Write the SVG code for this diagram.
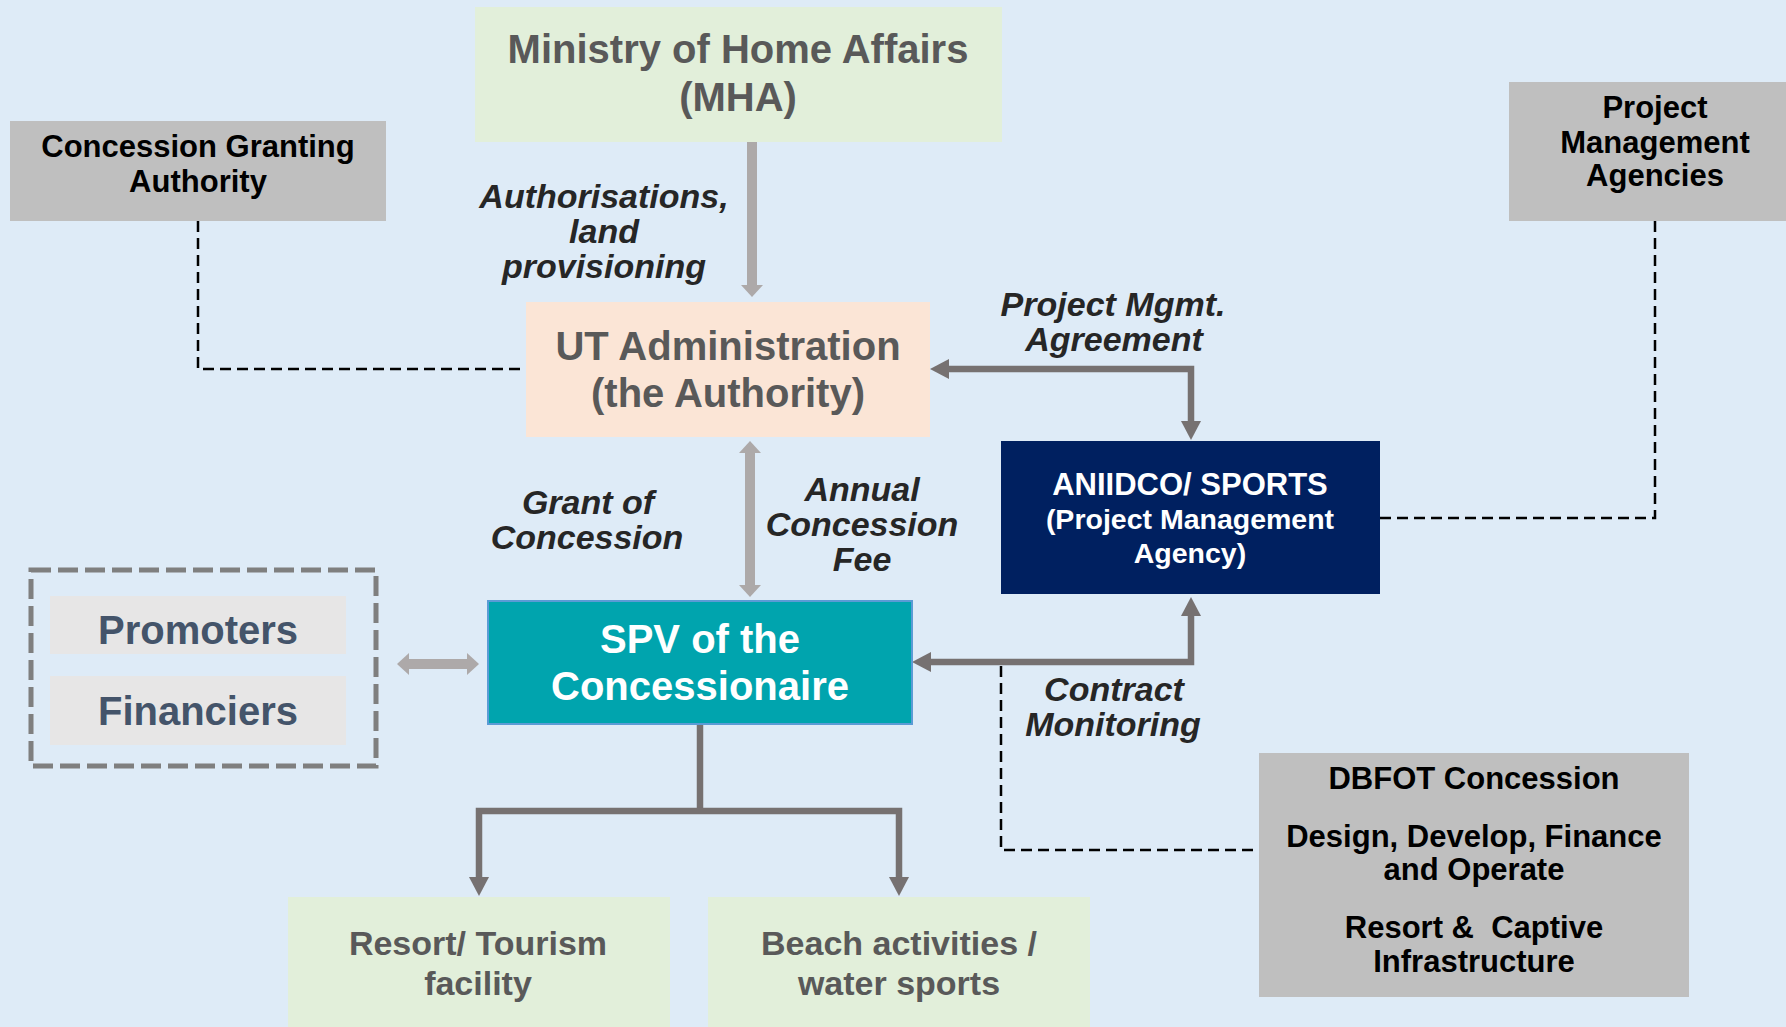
<svg xmlns="http://www.w3.org/2000/svg" width="1786" height="1027" viewBox="0 0 1786 1027">
<style>
text{font-family:"Liberation Sans",Arial,sans-serif;font-weight:bold;text-anchor:middle}
.t40{font-size:40px}
.t34{font-size:34px}
.t31{font-size:31px}
.grey{fill:#595959}
.blk{fill:#000}
.lab{font-style:italic;font-size:34px;fill:#262626}
.light{fill:none;stroke:#ADA9A9;stroke-width:10}
.dark{fill:none;stroke:#767171;stroke-width:6.5}
.dash{fill:none;stroke:#000;stroke-width:2.5;stroke-dasharray:11 6}
</style>
<defs>
<marker id="hl" markerUnits="userSpaceOnUse" markerWidth="14" markerHeight="24" refX="0" refY="11" orient="auto-start-reverse" viewBox="0 0 14 24"><path d="M0,0 L12,11 L0,22 Z" fill="#ADA9A9"/></marker>
<marker id="hd" markerUnits="userSpaceOnUse" markerWidth="20" markerHeight="22" refX="0" refY="10" orient="auto-start-reverse" viewBox="0 0 20 22"><path d="M0,0 L19,10 L0,20 Z" fill="#767171"/></marker>
</defs>
<rect x="0" y="0" width="1786" height="1027" fill="#DEEBF7"/>

<g id="connectors">
<path class="light" d="M752,142 V285" marker-end="url(#hl)"/>
<path class="light" d="M750,453 V585" marker-start="url(#hl)" marker-end="url(#hl)"/>
<path class="light" d="M409,664 H467" marker-start="url(#hl)" marker-end="url(#hl)"/>
<path class="dark" d="M949,369 H1191 V421" marker-start="url(#hd)" marker-end="url(#hd)"/>
<path class="dark" d="M1191,616 V662 H931" marker-start="url(#hd)" marker-end="url(#hd)"/>
<path class="dark" d="M700,724 V811"/>
<path class="dark" d="M700,811 H479 V877" marker-end="url(#hd)"/>
<path class="dark" d="M700,811 H899 V877" marker-end="url(#hd)"/>
<path class="dash" d="M198,221 V369 H526"/>
<path class="dash" d="M1655,221 V518 H1380"/>
<path class="dash" d="M1001,666 V850 H1259"/>
</g>

<g id="labels">
<text class="lab" x="604" y="208">Authorisations,<tspan x="604" dy="35">land</tspan><tspan x="604" dy="35">provisioning</tspan></text>
<text class="lab" x="1113" y="316">Project Mgmt.<tspan x="1114" dy="35">Agreement</tspan></text>
<text class="lab" x="588" y="514">Grant of<tspan x="587" dy="35">Concession</tspan></text>
<text class="lab" x="862" y="501">Annual<tspan x="862" dy="35">Concession</tspan><tspan x="862" dy="35">Fee</tspan></text>
<text class="lab" x="1114" y="701">Contract<tspan x="1113" dy="35">Monitoring</tspan></text>
</g>

<g id="mha">
<rect x="475" y="7" width="527" height="135" fill="#E2EFDA"/>
<text class="t40 grey" x="738" y="63">Ministry of Home Affairs<tspan x="738" dy="48">(MHA)</tspan></text>
</g>

<g id="cga">
<rect x="10" y="121" width="376" height="100" fill="#BFBFBF"/>
<text class="t31 blk" x="198" y="157">Concession Granting<tspan x="198" dy="35">Authority</tspan></text>
</g>

<g id="pma">
<rect x="1509" y="82" width="290" height="139" fill="#BFBFBF"/>
<text class="t31 blk" x="1655" y="118">Project<tspan x="1655" dy="35">Management</tspan><tspan x="1655" dy="33">Agencies</tspan></text>
</g>

<g id="ut">
<rect x="526" y="302" width="404" height="135" fill="#FBE5D6"/>
<text class="t40 grey" x="728" y="360">UT Administration<tspan x="728" dy="47">(the Authority)</tspan></text>
</g>

<g id="aniidco">
<rect x="1001" y="441" width="379" height="153" fill="#002060"/>
<text class="t31" fill="#FFFFFF" x="1190" y="495">ANIIDCO/ SPORTS</text>
<text fill="#FFFFFF" font-size="28.5" x="1190" y="529">(Project Management<tspan x="1190" dy="34">Agency)</tspan></text>
</g>

<g id="spv">
<rect x="488" y="601" width="424" height="123" fill="#00A4AE" stroke="#5B9BD5" stroke-width="2"/>
<text class="t40" fill="#FFFFFF" x="700" y="653">SPV of the<tspan x="700" dy="47">Concessionaire</tspan></text>
</g>

<g id="sponsors">
<rect x="31" y="570" width="345" height="196" fill="none" stroke="#7F7F7F" stroke-width="5" stroke-dasharray="20 7"/>
<g id="promoters">
<rect x="50" y="596" width="296" height="58" fill="#E7E6E6"/>
<text class="t40" fill="#44546A" x="198" y="644">Promoters</text>
</g>
<g id="financiers">
<rect x="50" y="676" width="296" height="69" fill="#E7E6E6"/>
<text class="t40" fill="#44546A" x="198" y="725">Financiers</text>
</g>
</g>

<g id="resort">
<rect x="288" y="897" width="382" height="140" fill="#E2EFDA"/>
<text class="t34 grey" x="478" y="955">Resort/ Tourism<tspan x="478" dy="40">facility</tspan></text>
</g>

<g id="beach">
<rect x="708" y="897" width="382" height="140" fill="#E2EFDA"/>
<text class="t34 grey" x="899" y="955">Beach activities /<tspan x="899" dy="40">water sports</tspan></text>
</g>

<g id="dbfot">
<rect x="1259" y="753" width="430" height="244" fill="#BFBFBF"/>
<text class="t31 blk" x="1474" y="789">DBFOT Concession</text>
<text class="t31 blk" x="1474" y="847">Design, Develop, Finance<tspan x="1474" dy="33">and Operate</tspan></text>
<text class="t31 blk" x="1474" y="938" xml:space="preserve">Resort &amp;  Captive<tspan x="1474" dy="34">Infrastructure</tspan></text>
</g>
</svg>
